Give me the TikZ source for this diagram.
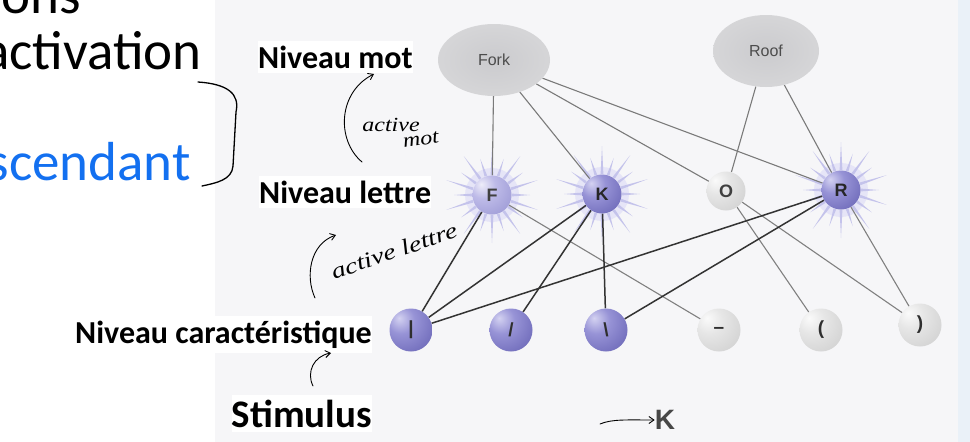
\documentclass[tikz,border=0pt]{standalone}
\usepackage{fontspec}
\setmainfont{Carlito}
\newfontfamily\helv{Liberation Sans}
\newfontfamily\hand{Liberation Serif}
\usetikzlibrary{arrows.meta,shapes.geometric}
\definecolor{blueT}{HTML}{1370F0}
\definecolor{photo}{HTML}{F6F6F8}
\definecolor{strip}{HTML}{EAF1F8}
\definecolor{actA}{HTML}{D4D2F1}
\definecolor{actB}{HTML}{9793D6}
\definecolor{actC}{HTML}{6864B5}
\definecolor{actD}{HTML}{474392}
\definecolor{fA}{HTML}{EEEDF9}
\definecolor{fB}{HTML}{BEBBE8}
\definecolor{fC}{HTML}{9A97D4}
\definecolor{fD}{HTML}{7E7BC0}
\definecolor{gA}{HTML}{FAFAFA}
\definecolor{gB}{HTML}{E6E6E6}
\definecolor{gC}{HTML}{CFCFCF}
\definecolor{gD}{HTML}{B6B6B6}
\definecolor{cA}{HTML}{CBCBCE}
\definecolor{cB}{HTML}{D6D6D8}
\definecolor{cC}{HTML}{E6E6E8}
\definecolor{cD}{HTML}{F6F6F8}
\definecolor{glowc}{HTML}{C4C3EB}
\definecolor{halo}{HTML}{E6E5F7}
\pgfdeclareradialshading{actball}{\pgfpoint{-14bp}{14bp}}{color(0bp)=(actA); color(16bp)=(actB); color(44bp)=(actC); color(70bp)=(actD); color(100bp)=(actD)}
\pgfdeclareradialshading{fball}{\pgfpoint{-14bp}{14bp}}{color(0bp)=(fA); color(16bp)=(fB); color(44bp)=(fC); color(70bp)=(fD); color(100bp)=(fD)}
\pgfdeclareradialshading{gball}{\pgfpoint{-14bp}{14bp}}{color(0bp)=(gA); color(16bp)=(gB); color(44bp)=(gC); color(70bp)=(gD); color(100bp)=(gD)}
\pgfdeclareradialshading{cloud}{\pgfpoint{0bp}{0bp}}{color(0bp)=(cA); color(26bp)=(cB); color(42bp)=(cC); color(50bp)=(cD); color(100bp)=(cD)}
\pgfdeclarelayer{bg}
\pgfdeclarelayer{glow}
\pgfdeclarelayer{edges}
\pgfsetlayers{bg,glow,edges,main}
\begin{document}
\begin{tikzpicture}[x=1pt,y=-1pt,
  big/.style={font=\fontsize{55}{60}\selectfont, inner sep=0pt},
  lab/.style={font=\bfseries\fontsize{32}{36}\selectfont, inner xsep=0pt, inner ysep=5pt, fill=white},
  cloudnode/.style={ellipse, shading=cloud, minimum width=112pt, minimum height=72pt, inner sep=0pt, font=\helv\fontsize{16}{18}\selectfont, text=black!70},
  letter/.style={circle, minimum size=39pt, inner sep=0pt, font=\helv\bfseries\fontsize{18}{20}\selectfont, text=black!75},
  feat/.style={circle, minimum size=43pt, inner sep=0pt, font=\helv\bfseries\fontsize{19}{21}\selectfont, text=black!82},
  wordedge/.style={draw=black!52, line width=1.1pt},
  actedge/.style={draw=black!80, line width=1.5pt},
  offedge/.style={draw=black!50, line width=1.1pt},
  handline/.style={draw=black, line width=0.9pt, line cap=round},
  handtip/.style={-{Straight Barb[length=5pt,width=7pt]}},
  handtext/.style={font=\hand\itshape\fontsize{20}{22}\selectfont, inner sep=0pt}
]
\useasboundingbox (0,0) rectangle (970,442);
\begin{pgfonlayer}{bg}
  \fill[photo] (215,0) rectangle (958,442);
  \fill[strip] (958,0) rectangle (970,442);
\end{pgfonlayer}

% slide text
\node[big, anchor=base east] (ons) at (81,13) {ons};
\node[big, anchor=base east] (activ) at (202,69) {activation};
\node[big, anchor=base east, text=blueT] (asc) at (191,180) {scendant};

% level labels
\node[lab, anchor=base west] (nmot) at (258,68) {Niveau mot};
\node[lab, anchor=base west] (nlet) at (259,203) {Niveau lettre};
\node[lab, anchor=base east] (ncar) at (372,343) {Niveau caractéristique};
\node[lab, anchor=base east, font=\bfseries\fontsize{39}{42}\selectfont] (stim) at (372,427) {Stimulus};

% word level
\node[cloudnode] (fork) at (494,60) {Fork};
\node[cloudnode, minimum width=106pt] (roof) at (766,51) {Roof};

% letter level
\node[letter, shading=fball] (F) at (492,195) {F};
\node[letter, shading=actball, text=black!85] (K) at (602,194) {K};
\node[letter, shading=gball] (O) at (726,191) {O};
\node[letter, shading=actball, text=black!85] (R) at (841,190) {R};

% feature level
\node[feat, shading=actball] (f1) at (411,330) {|};
\node[feat, shading=actball] (f2) at (511,330) {/};
\node[feat, shading=actball] (f3) at (606,330) {\textbackslash};
\node[feat, shading=gball] (f4) at (719,330) {–};
\node[feat, shading=gball] (f5) at (821,330) {(};
\node[feat, shading=gball] (f6) at (920,325) {)};

% stimulus K
\node[font=\helv\bfseries\fontsize{28}{30}\selectfont, text=black!72, inner sep=0pt] (stimK) at (665,420) {K};

% glow around active letters
\begin{pgfonlayer}{glow}
  \foreach \n in {F,K,R}{
    \fill[halo, shift={(\n.center)}] (0,0) circle[radius=27pt];
    \foreach \a [count=\i] in {0,18,...,342}{
      \pgfmathsetmacro\L{48-10*mod(\i,2)}
      \fill[glowc, shift={(\n.center)}] (\a-4:20) -- (\a:\L) -- (\a+4:20) -- cycle;
    }
  }
\end{pgfonlayer}

% connections
\begin{pgfonlayer}{edges}
  \draw[wordedge] (fork) -- (F);
  \draw[wordedge] (fork) -- (K);
  \draw[wordedge] (fork) -- (O);
  \draw[wordedge] (fork) -- (R);
  \draw[wordedge] (roof) -- (O);
  \draw[wordedge] (roof) -- (R);
  \draw[actedge] (F) -- (f1);
  \draw[offedge] (F) -- (f4);
  \draw[actedge] (K) -- (f1);
  \draw[actedge] (K) -- (f2);
  \draw[actedge] (K) -- (f3);
  \draw[offedge] (O) -- (f5);
  \draw[offedge] (O) -- (f6);
  \draw[actedge] (R) -- (f1);
  \draw[actedge] (R) -- (f3);
  \draw[offedge] (R) -- (f6);
\end{pgfonlayer}

% handwritten bracket
\coordinate (brA) at (198,82);
\coordinate (brB) at (202,186);
\draw[handline, line width=1.3pt] (brA) .. controls (228,84) and (240,94) .. (236,112) -- (233,166) .. controls (232,180) and (216,183) .. (brB);

% handwritten annotations
\coordinate (m0) at (362,162);
\coordinate (m1) at (374,74);
\draw[handline, handtip] (m0) .. controls (336,140) and (338,92) .. (m1);
\node[handtext] (amot) at (391,125) {\scalebox{1.2}[1]{active}};
\node[handtext, rotate=8] (mmot) at (421,140) {\scalebox{1.2}[1]{mot}};

\coordinate (l0) at (315,298);
\coordinate (l1) at (336,235);
\draw[handline, handtip] (l0) .. controls (305,276) and (310,244) .. (l1);
\node[handtext, rotate=19] (alet) at (394,251) {\scalebox{1.4}[1.1]{active lettre}};

\coordinate (s0) at (313,386);
\coordinate (s1) at (331,353);
\draw[handline, handtip] (s0) .. controls (306,372) and (314,356) .. (s1);

\coordinate (k0) at (600,424);
\draw[handline, handtip] (k0) .. controls (612,419) and (626,420) .. (stimK.west);
\end{tikzpicture}
\end{document}
